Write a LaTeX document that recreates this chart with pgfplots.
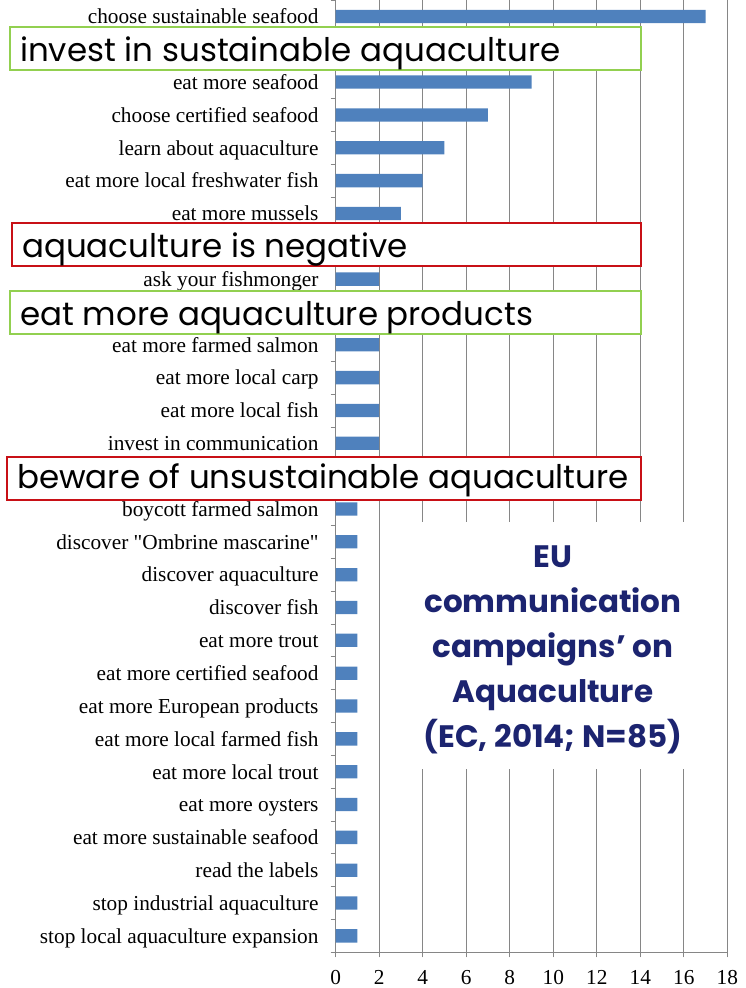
\documentclass[border=0pt]{standalone}
\usepackage{pgfplots}
\pgfplotsset{compat=1.18}
\usepackage{fontspec}
\setmainfont{Liberation Serif}[Ligatures=TeXOff]
\newfontfamily\gothic{Poppins}
\definecolor{barblue}{RGB}{79,129,189}
\definecolor{gridgray}{RGB}{134,134,134}
\definecolor{boxgreen}{RGB}{146,208,80}
\definecolor{boxred}{RGB}{200,16,22}
\definecolor{navy}{RGB}{28,36,112}
\begin{document}
\begin{tikzpicture}
\useasboundingbox (0,0) rectangle (745pt,988pt);
\begin{axis}[
  at={(335.7pt,35.7pt)}, anchor=south west,
  scale only axis, width=391.6pt, height=952.3pt,
  xbar, bar width=13.3pt,
  xmin=0, xmax=18, xtick={0,2,...,18},
  ymin=-0.5, ymax=28.5, y dir=reverse,
  ytick={-0.5,0.5,...,28.5},
  y tick label as interval,
  yticklabels={
    choose sustainable seafood,{},eat more seafood,choose certified seafood,
    learn about aquaculture,eat more local freshwater fish,eat more mussels,{},
    ask your fishmonger,{},eat more farmed salmon,eat more local carp,
    eat more local fish,invest in communication,{},boycott farmed salmon,
    discover "Ombrine mascarine",discover aquaculture,discover fish,
    eat more trout,eat more certified seafood,eat more European products,
    eat more local farmed fish,eat more local trout,eat more oysters,
    eat more sustainable seafood,read the labels,stop industrial aquaculture,
    stop local aquaculture expansion},
  axis x line*=bottom, axis y line*=left,
  axis line style={gridgray, line width=0.8pt, -},
  tick align=outside, major tick length=5pt,
  tick style={gridgray, line width=0.8pt},
  xmajorgrids, grid style={gridgray, line width=0.8pt},
  ticklabel style={font=\fontsize{21.3}{21.3}\selectfont, text=black},
  yticklabel style={inner sep=0pt, text height=14pt, text depth=0.4pt, yshift=-0.5pt, xshift=-12pt},
  xticklabel style={inner sep=0pt, text height=14.5pt, text depth=0pt, yshift=-12pt},
  /pgf/number format/assume math mode=true,
  clip=false,
]
\addplot[fill=barblue, draw=none] coordinates {
  (17,0) (11,1) (9,2) (7,3) (5,4) (4,5) (3,6) (3,7) (2,8) (2,9)
  (2,10) (2,11) (2,12) (2,13) (2,14) (1,15) (1,16) (1,17) (1,18) (1,19)
  (1,20) (1,21) (1,22) (1,23) (1,24) (1,25) (1,26) (1,27) (1,28)};
\end{axis}
\begin{scope}[shift={(0pt,988pt)}, x=1pt, y=-1pt]
  % title panel
  \fill[white] (381.5,522) rectangle (726,769);
  \foreach \t/\yb in {EU/568, communication/613, campaigns’ on/658, Aquaculture/703, {(EC, 2014; N=85)}/748}
    \node[anchor=base, inner sep=0pt, text=navy, font=\gothic\bfseries\fontsize{31}{31}\selectfont] at (553,\yb) {\t};
  % category boxes
  \tikzset{boxtxt/.style={anchor=base west, inner sep=0pt, text depth=5pt, font=\gothic\fontsize{32.5}{32.5}\selectfont}}
  \draw[boxgreen, line width=2pt, fill=white] (10,27) rectangle (641,70);
  \node[boxtxt] at (20,61.5) {invest in sustainable aquaculture};
  \draw[boxred, line width=2pt, fill=white] (12,223) rectangle (641,266);
  \node[boxtxt] at (22,257.5) {aquaculture is negative};
  \draw[boxgreen, line width=2pt, fill=white] (10,291) rectangle (641,334);
  \node[boxtxt] at (20,325.5) {eat more aquaculture products};
  \draw[boxred, line width=2pt, fill=white] (7,457) rectangle (641,500);
  \node[boxtxt] at (17,489) {beware of unsustainable aquaculture};
\end{scope}
\end{tikzpicture}
\end{document}
